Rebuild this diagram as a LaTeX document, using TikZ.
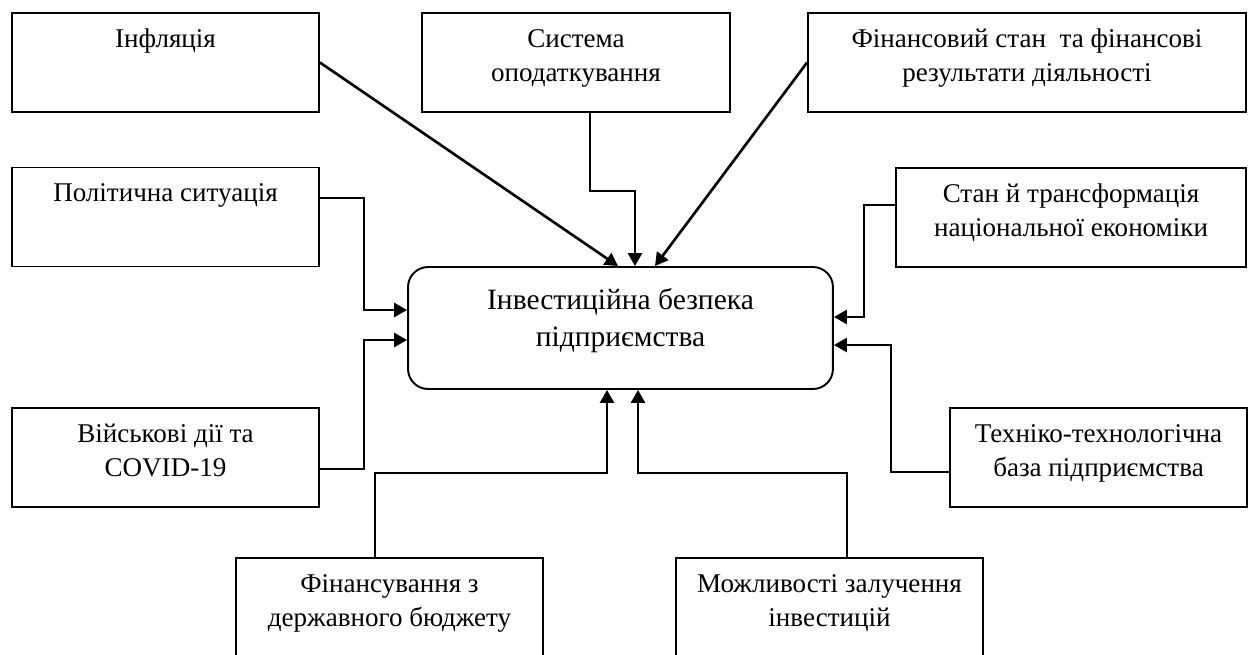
\documentclass[tikz,border=0pt]{standalone}
\usepackage{fontspec}
\setmainfont{Liberation Serif}
\usetikzlibrary{positioning, arrows.meta}
\tikzset{
    factor/.style={
        rectangle,
        draw,
        line width=1.1pt, % рамка блоку
        minimum height=1.98cm,
        inner sep=0
    },
    mainbox/.style={
        rectangle,
        draw,
        rounded corners=0.4cm,
        line width=1.1pt,
        minimum width=8.5cm,
        minimum height=2.44cm,
        inner sep=0
    },
    caption/.style={
        anchor=north,
        align=center,
        inner sep=0,
        font=\fontsize{15.4}{19.4}\selectfont
    },
    bigcaption/.style={
        caption,
        font=\fontsize{16.8}{21.1}\selectfont
    },
    link/.style={
        line width=1.5pt,
        -{Triangle[length=0.26cm,width=0.28cm]}
    }
}

\begin{document}
\begin{tikzpicture}[x=0.02cm, y=-0.02cm]
    \clip (0,0) rectangle (1259,654);
    % центральний блок
    \node[mainbox] (cen) at (620.5,328) {};
    \node[bigcaption] (cen-t) at ([yshift=-0.34cm]cen.north) {\strut Інвестиційна безпека\\підприємства};
    % верхній ряд
    \node[factor, minimum width=6.14cm] (infl) at (165.5,62.5) {};
    \node[caption] (infl-t) at ([yshift=-0.22cm]infl.north) {\strut Інфляція};
    \node[factor, minimum width=6.16cm] (tax) at (576,62.5) {};
    \node[caption] (tax-t) at ([yshift=-0.22cm]tax.north) {\strut Система\\оподаткування};
    \node[factor, minimum width=8.76cm] (fin) at (1027,62.5) {};
    \node[caption] (fin-t) at ([yshift=-0.22cm]fin.north) {\strut Фінансовий стан~ та фінансові\\результати діяльності};
    % середній ряд
    \node[factor, minimum width=6.14cm] (pol) at (165.5,217) {};
    \node[caption] (pol-t) at ([yshift=-0.22cm]pol.north) {\strut Політична ситуація};
    \node[factor, minimum width=7cm] (econ) at (1071,217.5) {};
    \node[caption] (econ-t) at ([yshift=-0.22cm]econ.north) {\strut Стан й трансформація\\національної економіки};
    \node[factor, minimum width=6.14cm] (war) at (165.5,457.5) {};
    \node[caption] (war-t) at ([yshift=-0.22cm]war.north) {\strut Військові дії та\\COVID-19};
    \node[factor, minimum width=5.94cm] (tech) at (1098.5,457.5) {};
    \node[caption] (tech-t) at ([yshift=-0.22cm]tech.north) {\strut Техніко-технологічна\\база підприємства};
    % нижній ряд
    \node[factor, minimum width=6.14cm, minimum height=2cm] (budget) at (389.5,608) {};
    \node[caption] (budget-t) at ([yshift=-0.22cm]budget.north) {\strut Фінансування з\\державного бюджету};
    \node[factor, minimum width=6.14cm, minimum height=2cm] (invest) at (829.5,608) {};
    \node[caption] (invest-t) at ([yshift=-0.22cm]invest.north) {\strut Можливості залучення\\інвестицій};

    % зв'язки
    \draw[link] (infl.east) -- ([xshift=-0.05cm]cen.north);
    \draw[link] ([xshift=0.28cm]tax.south) -- ++(0,78) -| ([xshift=0.29cm]cen.north);
    \draw[link] (fin.west) -- ([xshift=0.69cm]cen.north);
    \draw[link] ([yshift=0.38cm]pol.east) -- ++(44,0) |- ([yshift=0.36cm]cen.west);
    \draw[link] ([yshift=-0.23cm]war.east) -- ++(44,0) |- ([yshift=-0.24cm]cen.west);
    \draw[link] ([yshift=0.25cm]econ.west) -- ++(-31,0) |- ([yshift=0.22cm]cen.east);
    \draw[link] ([yshift=-0.29cm]tech.west) -- ++(-58,0) |- ([yshift=-0.34cm]cen.east);
    \draw[link] ([xshift=-0.29cm]budget.north) -- ++(0,-84) -| ([xshift=-0.27cm]cen.south);
    \draw[link] ([xshift=0.35cm]invest.north) -- ++(0,-84) -| ([xshift=0.35cm]cen.south);
\end{tikzpicture}
\end{document}
